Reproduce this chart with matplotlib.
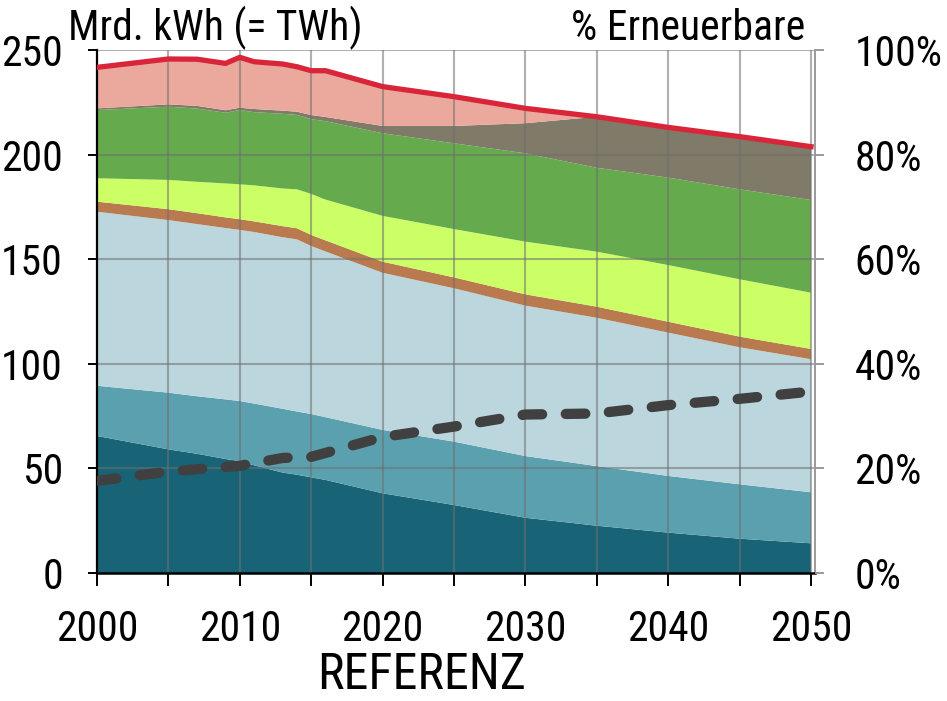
import matplotlib
matplotlib.use("Agg")
import matplotlib.pyplot as plt
from matplotlib import font_manager as fm
import numpy as np

available = set(f.name for f in fm.fontManager.ttflist)
preferred = ['Liberation Sans Narrow', 'Arial Narrow', 'Nimbus Sans Narrow',
             'Roboto Condensed', 'Archivo Narrow', 'PT Sans Narrow',
             'Liberation Sans']
font_list = [f for f in preferred if f in available][:1] + ['DejaVu Sans']
plt.rcParams['font.family'] = font_list

years = [2000, 2005, 2007, 2009, 2010, 2011, 2013, 2014, 2015, 2016,
         2020, 2025, 2030, 2035, 2040, 2045, 2050]

seg_dark_teal = [65.5, 59.1, 57.0, 54.5, 53.5, 51.5, 48.0, 47.0, 45.7, 44.5,
                 38.1, 32.5, 26.4, 22.6, 19.3, 16.4, 14.2]
seg_mid_teal = [24.0, 27.1, 27.5, 28.5, 28.7, 29.5, 30.5, 30.2, 30.3, 30.0,
                30.3, 30.3, 29.5, 28.5, 27.1, 26.0, 24.4]
seg_light_blue = [83.2, 82.5, 82.3, 81.9, 81.8, 82.0, 82.0, 82.3, 80.3, 79.2,
                  75.1, 73.3, 71.9, 70.9, 68.5, 65.5, 63.6]
seg_brown = [4.8, 5.2, 5.2, 5.1, 5.1, 5.1, 5.3, 5.3, 5.3, 5.3,
             5.3, 5.2, 5.4, 5.3, 5.2, 5.1, 4.9]
seg_yellow = [11.2, 14.0, 15.0, 16.2, 16.7, 17.2, 18.0, 18.6, 19.6, 19.5,
              21.9, 23.1, 25.2, 26.3, 27.1, 27.4, 26.9]
seg_green = [32.6, 35.0, 35.0, 33.8, 35.5, 35.0, 35.7, 35.6, 35.7, 37.5,
             39.5, 41.0, 42.2, 40.1, 41.8, 43.0, 44.3]
seg_grey = [0.8, 1.1, 1.3, 1.2, 1.1, 1.5, 1.5, 1.5, 2.0, 2.0,
            3.5, 8.3, 14.4, 24.4, 24.0, 25.2, 25.5]
seg_salmon = [19.6, 21.7, 22.3, 22.4, 24.1, 22.6, 22.3, 21.5, 21.2, 22.1,
              18.8, 14.0, 7.1, 0.0, 0.0, 0.0, 0.0]

pct_years = [2000, 2005, 2010, 2013, 2015, 2020, 2025, 2030, 2035, 2040, 2045, 2050]
pct_renew = [17.6, 19.4, 20.5, 22.0, 22.2, 26.0, 28.0, 30.3, 30.5, 32.1, 33.3, 34.7]

left_ticks = [0, 50, 100, 150, 200, 250]
right_ticks = [0, 20, 40, 60, 80, 100]
right_labels = ['0%', '20%', '40%', '60%', '80%', '100%']
x_major = [2000, 2010, 2020, 2030, 2040, 2050]
x_minor = [2005, 2015, 2025, 2035, 2045]

colors = ['#186476', '#5ba0ae', '#bcd6de', '#b87a4e', '#ccff66',
          '#66aa4e', '#807a68', '#eba99d']

W, H = 947, 701
fig = plt.figure(figsize=(W / 100, H / 100), dpi=100)
L, R, T, B = 97, 815, 50, 573
ax = fig.add_axes([L / W, (H - B) / H, (R - L) / W, (B - T) / H])

series = [seg_dark_teal, seg_mid_teal, seg_light_blue, seg_brown,
          seg_yellow, seg_green, seg_grey, seg_salmon]
ax.stackplot(years, *series, colors=colors, linewidth=0, zorder=1)
total = np.sum(np.array(series), axis=0)

ax.set_xlim(2000, 2000 + (R - L) / (714 / 50))
ax.set_ylim(0, 250)

for y in left_ticks[1:]:
    ax.axhline(y, color='#6f6f6f', alpha=0.55, lw=1.5, zorder=2)
for x in x_major[1:] + x_minor:
    ax.axvline(x, color='#6f6f6f', alpha=0.55, lw=1.5, zorder=2)

ax.plot(years, total, color='#d9253a', lw=3.8, zorder=4, solid_joinstyle='round')

FS = 30
ax.set_yticks(left_ticks)
ax.set_xticks(x_major)
ax.set_xticks(x_minor, minor=True)
ax.tick_params(axis='y', direction='out', length=6.5, width=1.4, color='black',
               labelsize=FS, pad=18)
ax.tick_params(axis='x', which='both', direction='out', length=9, width=1.4,
               color='black', labelsize=FS, pad=17)
ax.spines['top'].set_visible(False)
ax.spines['right'].set_color('#9a9a9a')
ax.spines['right'].set_linewidth(1.4)
ax.spines['left'].set_linewidth(1.6)
ax.spines['bottom'].set_linewidth(1.8)

ax2 = ax.twinx()
ax2.set_ylim(0, 100)
ax2.set_yticks(right_ticks)
ax2.set_yticklabels(right_labels)
ax2.tick_params(axis='y', direction='out', length=6.5, width=1.4,
                color='#9a9a9a', labelsize=FS, pad=22)
for s in ['top', 'left', 'bottom', 'right']:
    ax2.spines[s].set_visible(False)
ax2.plot(pct_years, pct_renew, color='#404040', lw=7.4, dashes=(1.9, 2.3),
         dash_capstyle='round', zorder=5)

fig.text(68 / W, (H - 40) / H, 'Mrd. kWh (= TWh)', fontsize=FS,
         ha='left', va='baseline')
fig.text(805 / W, (H - 40) / H, '% Erneuerbare', fontsize=FS,
         ha='right', va='baseline')
fig.text(422 / W, (H - 699) / H, 'REFERENZ', fontsize=36,
         ha='center', va='bottom')

fig.savefig('out.png', dpi=100)
